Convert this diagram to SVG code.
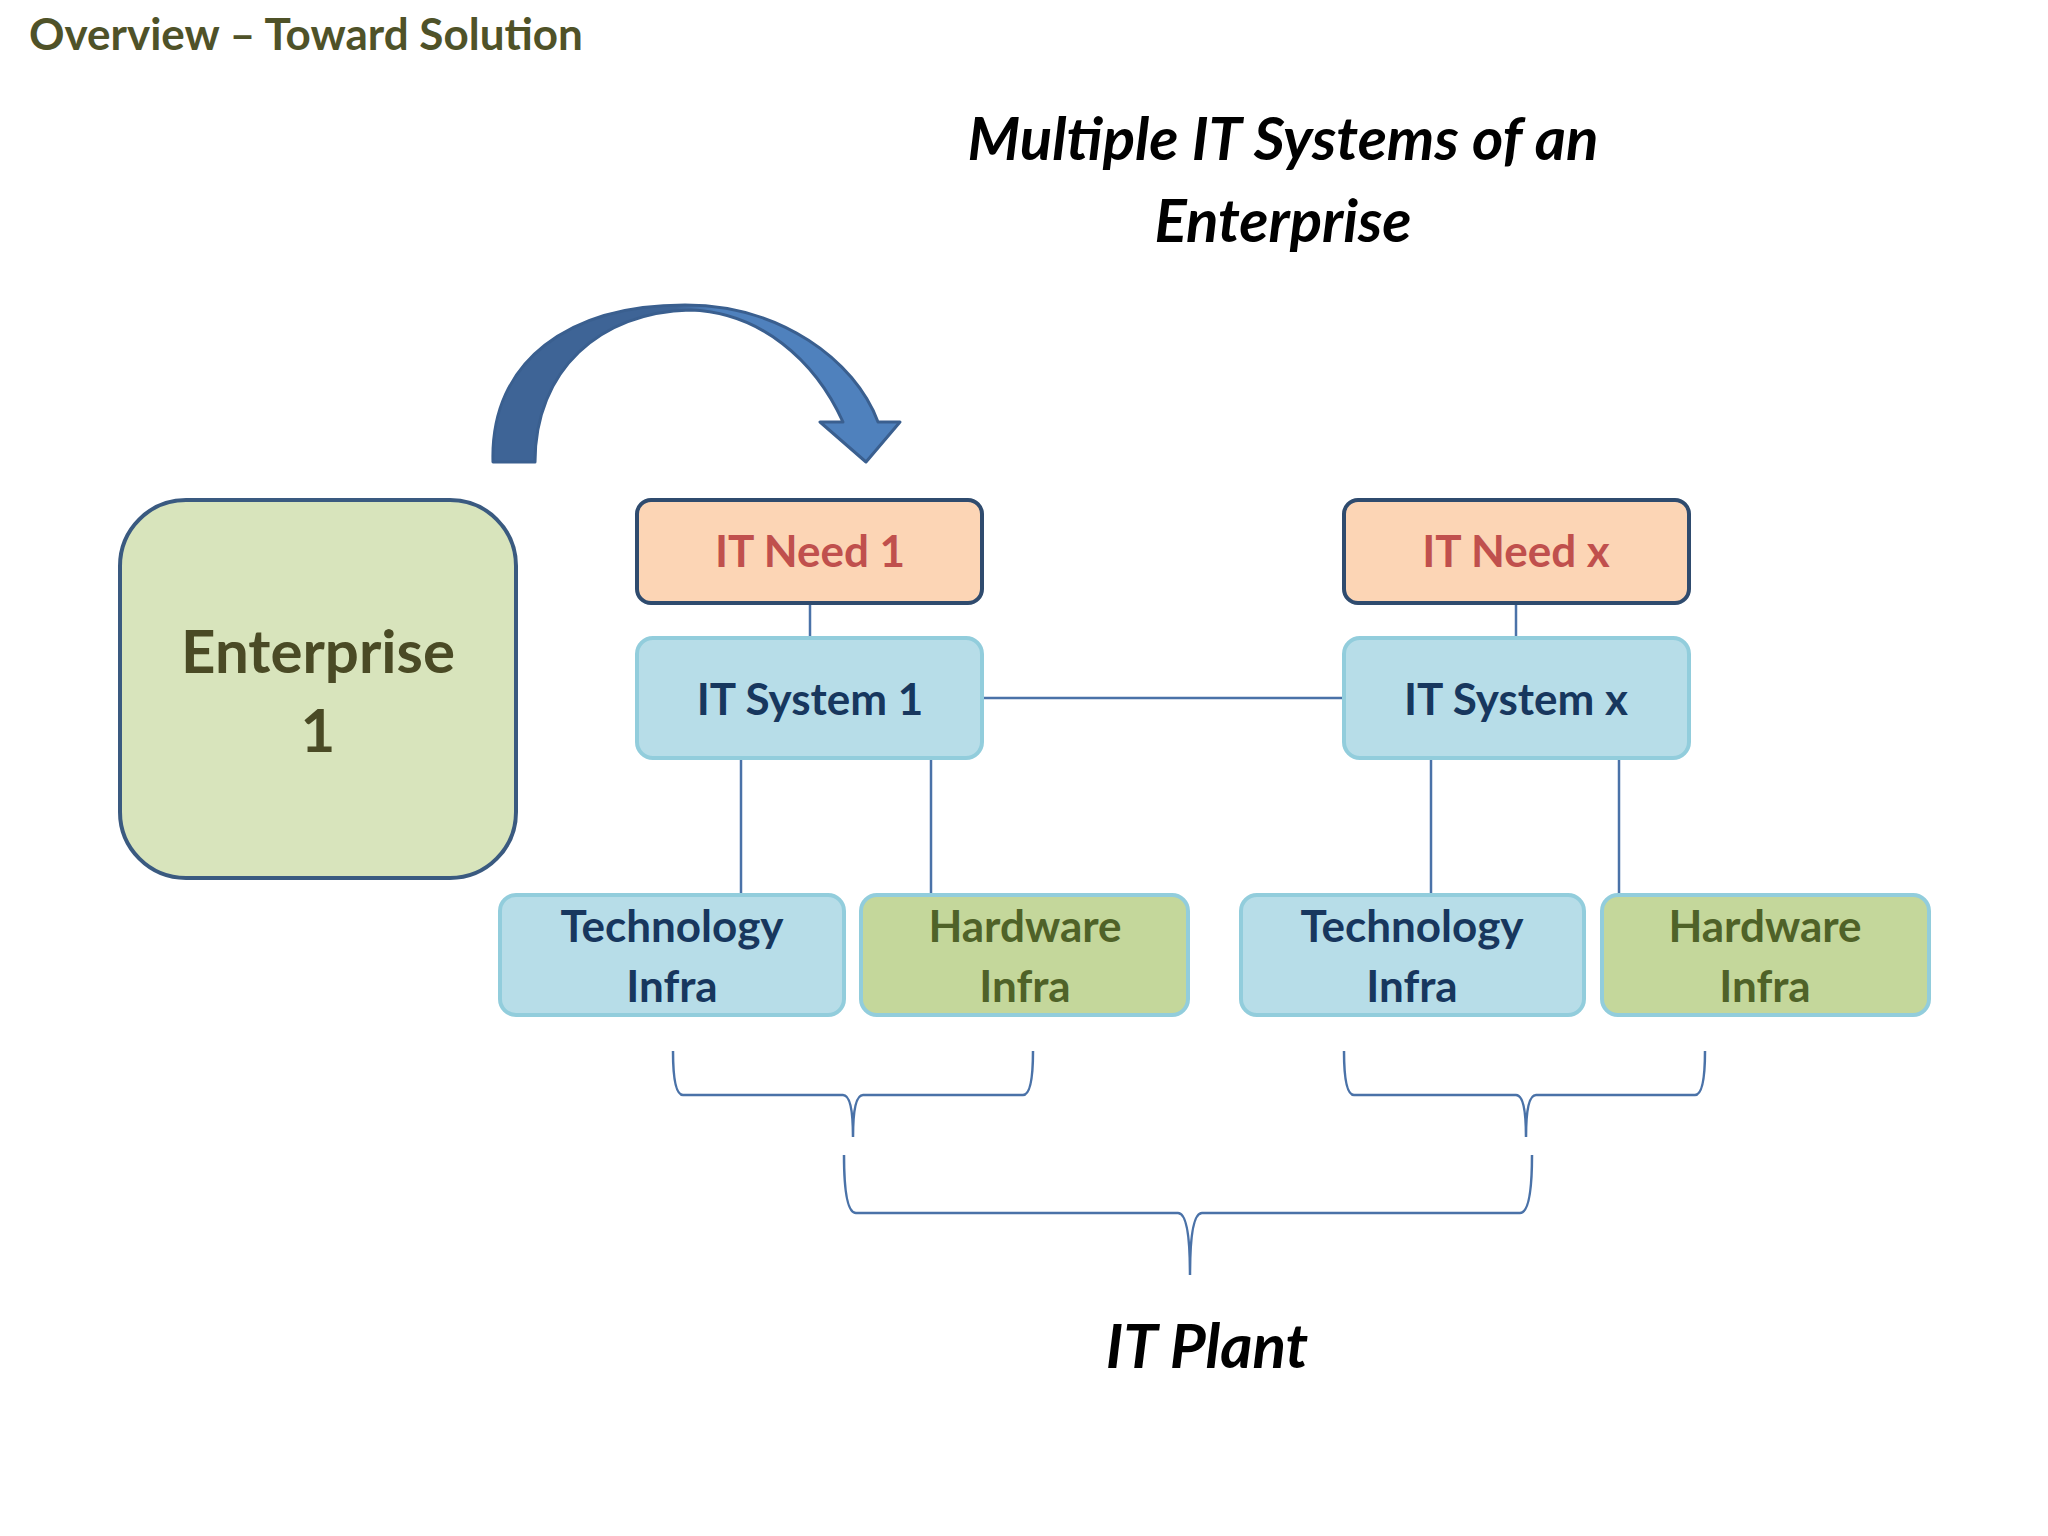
<svg xmlns="http://www.w3.org/2000/svg" width="2048" height="1536" viewBox="0 0 2048 1536">
<defs>
<linearGradient id="ag" x1="0" y1="0" x2="1" y2="0"><stop offset="0.45" stop-color="#3e6496"/><stop offset="0.55" stop-color="#4f81bd"/></linearGradient>
</defs>
<style>
text{font-family:Lato,"Open Sans","Liberation Sans",sans-serif;font-weight:bold;text-anchor:middle}
.need{fill:#fcd5b5;stroke:#2f4b6e;stroke-width:4}
.sys{fill:#b7dde8;stroke:#92cddc;stroke-width:4}
.hw{fill:#c4d79b;stroke:#92cddc;stroke-width:4}
.ln{stroke:#4a72a8;stroke-width:2.5;fill:none}
.nt{fill:#c0504d;font-size:44px}
.st{fill:#17375e;font-size:44px}
.ht{fill:#4f6228;font-size:44px}
</style>
<rect width="2048" height="1536" fill="#fff"/>
<text x="29" y="50" style="text-anchor:start;font-size:44px;fill:#4f5228">Overview – Toward Solution</text>
<text x="1283" y="160" style="font-size:60px;font-style:italic;fill:#000">Multiple IT Systems of an</text>
<text x="1283" y="242" style="font-size:60px;font-style:italic;fill:#000">Enterprise</text>
<path d="M493,462 C490,360 570,305 685,305 C780,305 855,360 878,422 L900,422 L866,462 L820,422 L843,422 C815,360 760,312 690,310 C600,312 535,370 535,462 Z" fill="url(#ag)" stroke="#3a5f8f" stroke-width="3" stroke-linejoin="round"/>
<g id="connectors" class="ln">
<line x1="810" y1="603" x2="810" y2="638"/>
<line x1="1516" y1="603" x2="1516" y2="638"/>
<line x1="982" y1="698" x2="1344" y2="698"/>
<line x1="741" y1="758" x2="741" y2="895"/>
<line x1="931" y1="758" x2="931" y2="895"/>
<line x1="1431" y1="758" x2="1431" y2="895"/>
<line x1="1619" y1="758" x2="1619" y2="895"/>
<path d="M673,1051 Q673,1095 683,1095 L843,1095 Q853,1095 853,1137 Q853,1095 863,1095 L1023,1095 Q1033,1095 1033,1051"/>
<path d="M1344,1051 Q1344,1095 1354,1095 L1516,1095 Q1526,1095 1526,1137 Q1526,1095 1536,1095 L1695,1095 Q1705,1095 1705,1051"/>
<path d="M844,1155 Q844,1213 856,1213 L1178,1213 Q1190,1213 1190,1275 Q1190,1213 1202,1213 L1520,1213 Q1532,1213 1532,1155"/>
</g>
<g id="enterprise"><rect x="120" y="500" width="396" height="378" rx="66" fill="#d8e4bc" stroke="#3a5a80" stroke-width="4"/>
<text x="318" y="673" style="font-size:60px;fill:#4a4a25">Enterprise</text><text x="318" y="752" style="font-size:60px;fill:#4a4a25">1</text></g>
<g id="need1"><rect class="need" x="637" y="500" width="345" height="103" rx="14"/><text class="nt" x="810" y="567">IT Need 1</text></g>
<g id="needx"><rect class="need" x="1344" y="500" width="345" height="103" rx="14"/><text class="nt" x="1516" y="567">IT Need x</text></g>
<g id="sys1"><rect class="sys" x="637" y="638" width="345" height="120" rx="16"/><text class="st" x="810" y="715">IT System 1</text></g>
<g id="sysx"><rect class="sys" x="1344" y="638" width="345" height="120" rx="16"/><text class="st" x="1516" y="715">IT System x</text></g>
<g id="tech1"><rect class="sys" x="500" y="895" width="344" height="120" rx="16"/><text class="st" x="672" y="942">Technology</text><text class="st" x="672" y="1002">Infra</text></g>
<g id="hw1"><rect class="hw" x="861" y="895" width="327" height="120" rx="16"/><text class="ht" x="1025" y="942">Hardware</text><text class="ht" x="1025" y="1002">Infra</text></g>
<g id="techx"><rect class="sys" x="1241" y="895" width="343" height="120" rx="16"/><text class="st" x="1412" y="942">Technology</text><text class="st" x="1412" y="1002">Infra</text></g>
<g id="hwx"><rect class="hw" x="1602" y="895" width="327" height="120" rx="16"/><text class="ht" x="1765" y="942">Hardware</text><text class="ht" x="1765" y="1002">Infra</text></g>
<text x="1207" y="1368" style="font-size:62px;font-style:italic;fill:#000">IT Plant</text>
</svg>
